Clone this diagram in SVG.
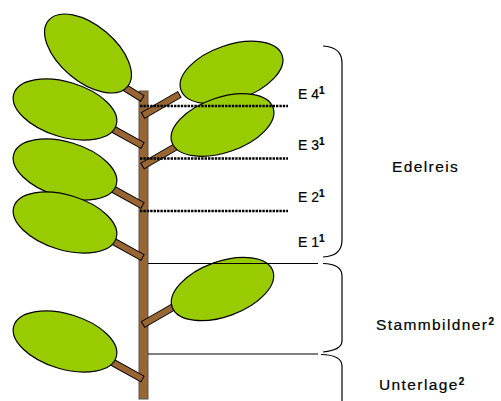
<svg xmlns="http://www.w3.org/2000/svg" width="501" height="401" viewBox="0 0 501 401">
  <style>
    .stem { fill: #996633; stroke: #555555; stroke-width: 1; }
    .petiole { fill: #996633; stroke: #000000; stroke-width: 1; }
    .leaf { fill: #99CC00; stroke: #000000; stroke-width: 1.2; }
    .dots { stroke: #000000; stroke-width: 2.7; stroke-dasharray: 2.4 1; fill: none; }
    .rule { stroke: #000000; stroke-width: 1; fill: none; }
    .brace { stroke: #000000; stroke-width: 1.2; fill: none; }
    .lbl { font-family: "Liberation Sans", Arial, sans-serif; font-size: 14px; fill: #000000; stroke: #000000; stroke-width: 0.2; }
    .zone { font-family: "Liberation Sans", Arial, sans-serif; font-size: 15.5px; letter-spacing: 1.4px; fill: #000000; stroke: #000000; stroke-width: 0.2; }
    .sup { font-size: 10px; font-weight: bold; letter-spacing: 0; }
  </style>
  <defs>
    <rect id="pet" x="0" y="-3.3" width="42" height="6.6" class="petiole"/>
    <ellipse id="lf" cx="0" cy="0" rx="53.5" ry="27.5" class="leaf"/>
  </defs>

  <!-- main stem -->
  <g id="stem">
    <rect class="stem" x="139" y="91" width="9" height="308"/>
  </g>

  <!-- leaf stalks, joined to the stem -->
  <g id="petioles">
    <use href="#pet" transform="translate(142.3,98.5) rotate(212)"/>
    <use href="#pet" transform="translate(142.5,145.5) rotate(209)"/>
    <use href="#pet" transform="translate(142.5,205.5) rotate(209)"/>
    <use href="#pet" transform="translate(142.5,257.5) rotate(209)"/>
    <use href="#pet" transform="translate(142.5,379) rotate(209)"/>
    <use href="#pet" transform="translate(143,115.5) rotate(-30)"/>
    <use href="#pet" transform="translate(142.5,166) rotate(-30)"/>
    <use href="#pet" transform="translate(143,324.5) rotate(-30)"/>
  </g>

  <!-- leaves -->
  <g id="leaf-l1"><ellipse class="leaf" cx="88" cy="53.5" rx="51.5" ry="28" transform="rotate(40 88 53.5)"/></g>
  <g id="leaf-l2"><use href="#lf" transform="translate(65,109.5) rotate(17)"/></g>
  <g id="leaf-l3"><use href="#lf" transform="translate(65,169.5) rotate(17)"/></g>
  <g id="leaf-l4"><use href="#lf" transform="translate(65,222.5) rotate(17)"/></g>
  <g id="leaf-l5"><use href="#lf" transform="translate(65,341.5) rotate(17)"/></g>
  <g id="leaf-r1"><use href="#lf" transform="translate(231.5,72.5) rotate(-19)"/></g>
  <g id="leaf-r2"><use href="#lf" transform="translate(222.5,125) rotate(-19)"/></g>
  <g id="leaf-r3"><use href="#lf" transform="translate(222.5,289) rotate(-20)"/></g>

  <!-- graft levels and zone borders -->
  <g id="connectors">
    <line class="dots" x1="140" y1="106" x2="288" y2="106"/>
    <line class="dots" x1="140" y1="158.5" x2="288" y2="158.5"/>
    <line class="dots" x1="140" y1="211" x2="288" y2="211"/>
    <line class="rule" x1="148" y1="263.5" x2="318" y2="263.5"/>
    <line class="rule" x1="148" y1="354" x2="318" y2="354" stroke="#444444" stroke-width="1.5"/>
    <path class="brace" d="M323,46 Q342,47 342,63 L342,240 Q342,256 323,257"/>
    <path class="brace" d="M323,263.5 Q342,264 342,276 L342,341 Q342,350 323,352"/>
    <path class="brace" d="M321,354.5 Q342,355 342,366 L342,402"/>
  </g>

  <!-- labels -->
  <g id="labels">
    <text class="lbl" x="298" y="99">E 4<tspan class="sup" dy="-5">1</tspan></text>
    <text class="lbl" x="298" y="150">E 3<tspan class="sup" dy="-5">1</tspan></text>
    <text class="lbl" x="298" y="202">E 2<tspan class="sup" dy="-5">1</tspan></text>
    <text class="lbl" x="298" y="247">E 1<tspan class="sup" dy="-5">1</tspan></text>
    <text class="zone" x="392" y="172">Edelreis</text>
    <text class="zone" x="376" y="330">Stammbildner<tspan class="sup" dy="-5">2</tspan></text>
    <text class="zone" x="379" y="390">Unterlage<tspan class="sup" dy="-5">2</tspan></text>
  </g>
</svg>
